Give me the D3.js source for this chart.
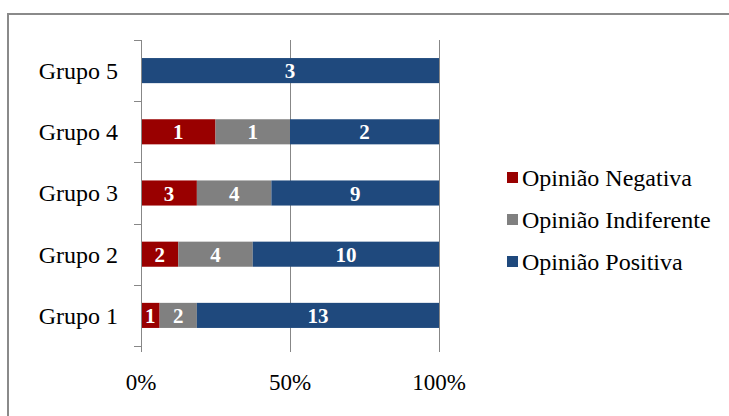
<!DOCTYPE html>
<html>
<head>
<meta charset="utf-8">
<script src="https://cdn.jsdelivr.net/npm/d3@7"></script>
<style>
  html, body { margin: 0; padding: 0; background: #fff; }
  svg { display: block; }
</style>
</head>
<body>
<svg id="chart" width="729" height="416" font-family="'Liberation Serif', 'Times New Roman', Times, serif"></svg>
<script>
const categories = ["Grupo 1", "Grupo 2", "Grupo 3", "Grupo 4", "Grupo 5"];
const seriesNames = ["Opinião Negativa", "Opinião Indiferente", "Opinião Positiva"];
const negativa = [1, 2, 3, 1, 0];
const indiferente = [2, 4, 4, 1, 0];
const positiva = [13, 10, 9, 2, 3];
const tickValues = [0, 0.5, 1];
const tickLabels = ["0%", "50%", "100%"];
const colors = ["#990000", "#808080", "#1F497D"];
const FONT = "'Liberation Serif', 'Times New Roman', Times, serif";

const rows = categories.map((c, i) => ({
  cat: c,
  "Opinião Negativa": negativa[i],
  "Opinião Indiferente": indiferente[i],
  "Opinião Positiva": positiva[i]
}));

const svg = d3.select("#chart");

// outer frame
svg.append("path")
  .attr("d", "M8,420 L8,14 L735,14")
  .attr("fill", "none")
  .attr("stroke", "#8a8a8a")
  .attr("stroke-width", 2);

const x = d3.scaleLinear().domain([0, 1]).range([141, 439]);
const y = d3.scaleBand().domain(categories.slice().reverse()).range([40, 346]).padding(0);
const barH = y.bandwidth() * 0.41;

// gridlines (with tick extension below)
svg.append("g").selectAll("line")
  .data(tickValues.slice(1))
  .join("line")
  .attr("x1", d => Math.round(x(d)) + 0.5)
  .attr("x2", d => Math.round(x(d)) + 0.5)
  .attr("y1", 40)
  .attr("y2", 352)
  .attr("stroke", "#878787")
  .attr("stroke-width", 1);

const stack = d3.stack().keys(seriesNames).offset(d3.stackOffsetExpand);
const layers = stack(rows);

const gBars = svg.append("g");
layers.forEach((layer, li) => {
  gBars.append("g").selectAll("rect")
    .data(layer)
    .join("rect")
    .attr("x", d => x(d[0]))
    .attr("width", d => x(d[1]) - x(d[0]))
    .attr("y", d => y(d.data.cat) + (y.bandwidth() - barH) / 2)
    .attr("height", barH)
    .attr("fill", colors[li]);
});

layers.forEach((layer, li) => {
  gBars.append("g").selectAll("text")
    .data(layer.filter(d => d.data[layer.key] > 0))
    .join("text")
    .attr("x", d => (x(d[0]) + x(d[1])) / 2)
    .attr("y", d => y(d.data.cat) + y.bandwidth() / 2)
    .attr("dy", "0.36em")
    .attr("text-anchor", "middle")
    .attr("fill", "#fff")
    .attr("font-family", FONT)
    .attr("font-weight", "bold")
    .attr("font-size", 21)
    .text(d => d.data[layer.key]);
});

// category axis
const gy = svg.append("g");
gy.append("line")
  .attr("x1", 141.5).attr("x2", 141.5)
  .attr("y1", 40).attr("y2", 352)
  .attr("stroke", "#878787");
const bounds = categories.map(c => y(c)).concat([346]);
gy.selectAll("line.tk")
  .data(bounds)
  .join("line")
  .attr("class", "tk")
  .attr("x1", 134).attr("x2", 141)
  .attr("y1", d => Math.round(d) + 0.5)
  .attr("y2", d => Math.round(d) + 0.5)
  .attr("stroke", "#878787");
gy.selectAll("text")
  .data(categories)
  .join("text")
  .attr("x", 118)
  .attr("y", d => y(d) + y.bandwidth() / 2)
  .attr("dy", "0.35em")
  .attr("text-anchor", "end")
  .attr("font-family", FONT)
  .attr("font-size", 24)
  .attr("fill", "#000")
  .text(d => d);

// value axis labels
svg.append("g").selectAll("text")
  .data(tickValues)
  .join("text")
  .attr("x", d => x(d))
  .attr("y", 390)
  .attr("text-anchor", "middle")
  .attr("font-family", FONT)
  .attr("font-size", 23)
  .attr("fill", "#000")
  .text((d, i) => tickLabels[i]);

// legend
const legend = svg.append("g");
seriesNames.forEach((name, i) => {
  const cy = 178 + i * 42;
  legend.append("rect")
    .attr("x", 507).attr("y", cy - 6)
    .attr("width", 11).attr("height", 11)
    .attr("fill", colors[i]);
  legend.append("text")
    .attr("x", 522).attr("y", cy)
    .attr("dy", "0.35em")
    .attr("font-family", FONT)
    .attr("font-size", 24)
    .attr("fill", "#000")
    .text(name);
});
</script>
</body>
</html>
